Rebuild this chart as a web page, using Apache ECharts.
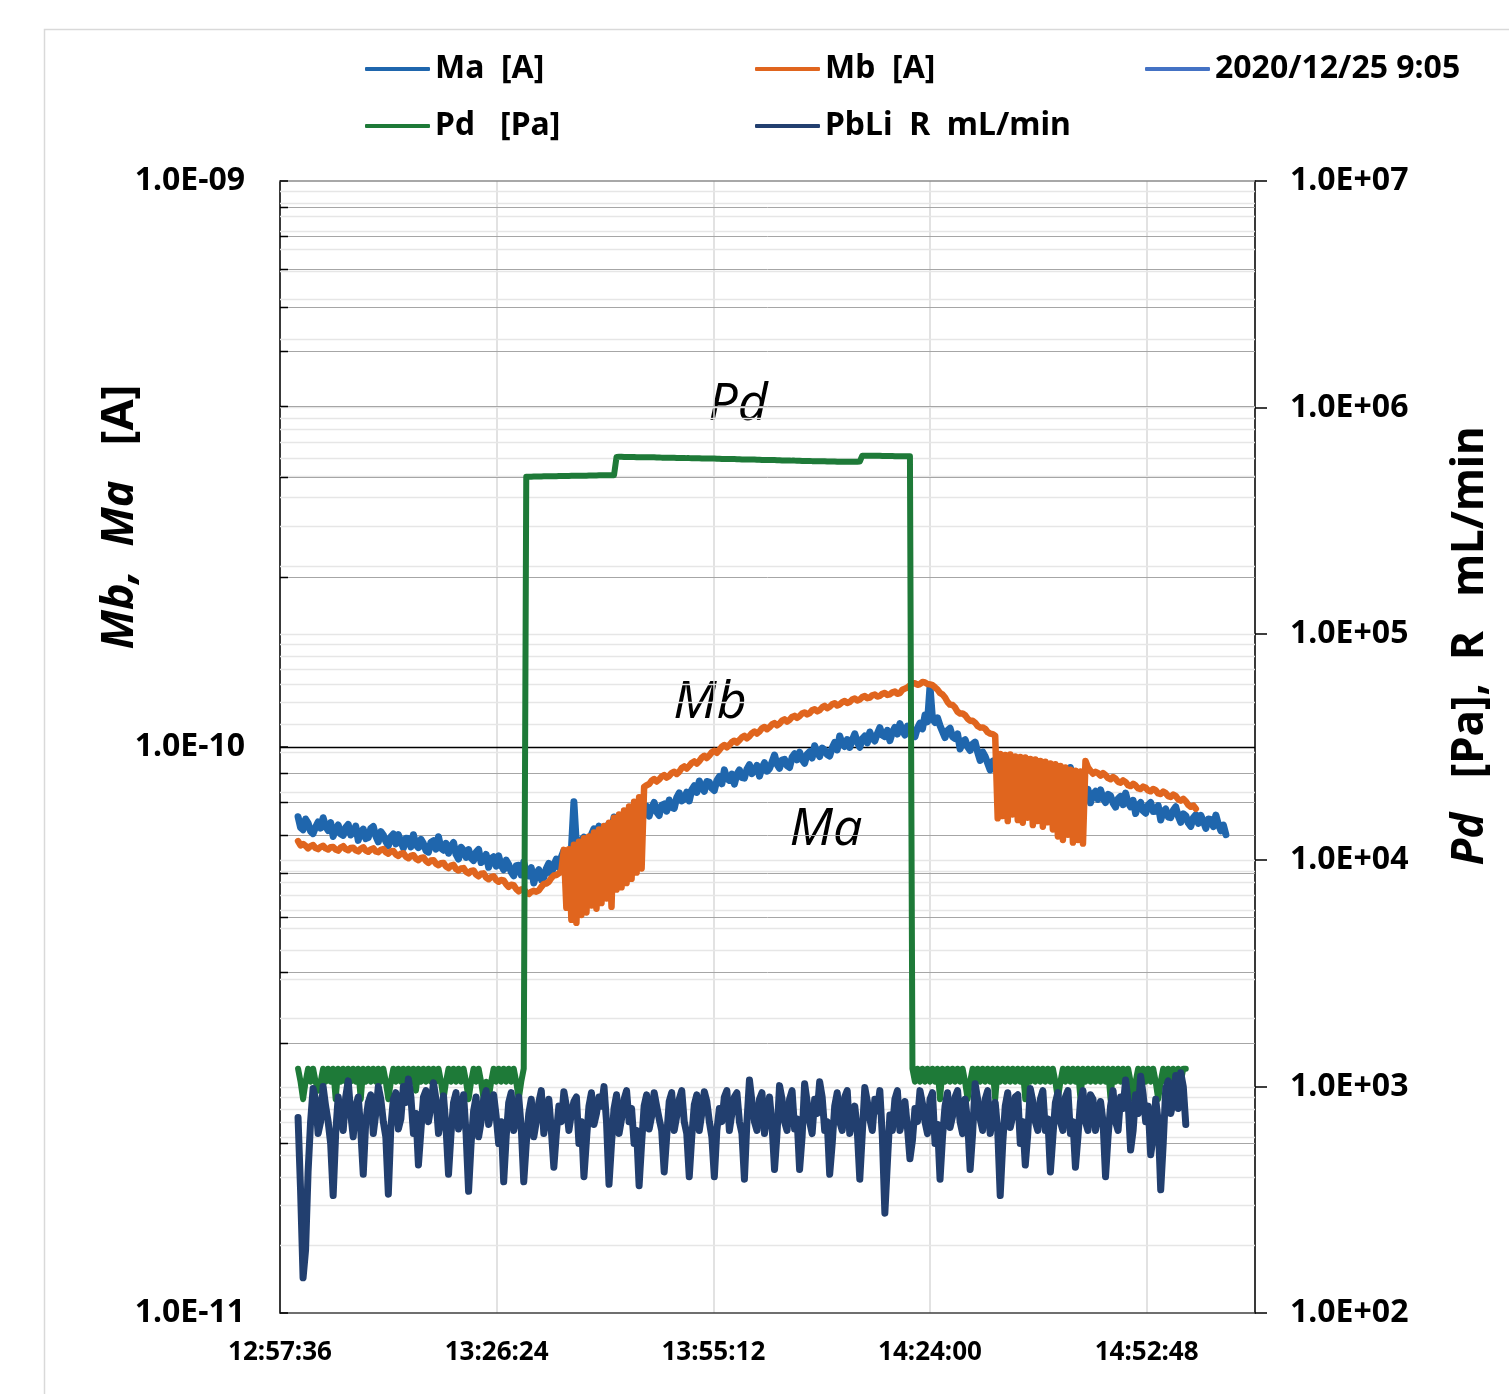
<!DOCTYPE html>
<html><head><meta charset="utf-8">
<script src="https://cdn.jsdelivr.net/npm/echarts@6/dist/echarts.min.js"></script>
<style>html,body{margin:0;padding:0;background:#fff}#c{width:1509px;height:1394px}</style>
</head><body><div id="c"></div><script>
// ---- axis / tick data ----
const xTickStart = '12:57:36';
const xTickStep = '0:28:48';
const xAxisEnd = '15:07:12';
const leftMinPA = 10, leftMaxPA = 1000;      // 1.0E-11 .. 1.0E-09 A (stored in pA)
const rightMin = 100, rightMax = 1e7;        // 1.0E+02 .. 1.0E+07

// ---- samples: logger start time and interval ----
const sampleStart = '13:00:00';
const sampleStepSec = 20;

// Ma [A] (values in pA)
const ma = [75.3,72.1,71.4,74.6,73.4,71.0,70.3,72.2,73.7,71.9,75.0,72.4,71.2,73.5,69.5,71.5,72.8,70.2,69.8,72.1,
 73.0,69.9,70.7,72.5,68.4,70.8,71.6,68.9,69.2,71.8,72.4,69.6,68.0,70.9,69.9,68.1,66.9,69.4,70.2,67.4,
 70.0,68.1,66.3,69.0,68.9,66.6,70.0,67.2,66.4,68.7,67.5,65.6,65.2,67.9,68.3,66.0,69.4,66.3,65.7,67.6,
 64.9,66.8,67.8,64.6,63.4,66.5,65.7,63.8,65.9,63.7,63.0,65.2,65.9,62.5,63.0,64.6,61.3,63.5,64.0,61.6,
 64.2,61.8,60.7,63.1,62.0,60.1,59.2,61.7,61.8,59.4,62.6,60.0,59.2,61.2,57.5,59.8,60.7,58.3,58.8,61.0,
 62.3,59.6,61.8,63.4,61.3,63.9,65.6,63.2,64.8,66.0,80.0,67.0,66.4,68.5,69.3,66.9,67.3,70.1,71.7,69.2,
 72.5,70.3,69.6,72.4,73.1,71.0,75.2,72.6,72.1,75.3,74.5,72.8,73.1,76.0,77.7,75.1,80.2,77.4,76.2,78.6,
 75.5,78.0,79.8,76.8,75.7,78.9,79.3,77.0,80.6,78.2,77.9,81.4,83.0,80.3,80.9,83.2,80.3,84.0,85.4,83.1,
 87.1,84.6,83.5,86.9,86.7,84.5,83.8,87.2,88.7,86.1,91.1,88.0,87.3,89.6,86.0,89.5,91.1,88.3,88.1,91.4,
 93.1,89.7,90.9,92.8,88.8,91.9,93.8,90.6,91.6,94.1,96.8,93.2,91.7,94.8,95.1,92.7,92.0,95.9,97.3,94.9,
 97.9,95.0,93.6,97.1,98.1,95.6,100.5,97.8,96.2,99.6,98.8,96.9,96.4,99.7,101.9,98.8,104.6,101.3,100.2,103.1,
 99.8,102.9,105.5,102.0,99.9,103.4,104.6,101.7,106.3,103.5,102.5,105.6,108.2,104.9,104.3,107.0,102.6,106.1,108.3,105.4,
 110.0,106.9,105.0,108.9,108.4,105.8,104.3,108.0,110.2,107.6,113.9,110.8,128.0,112.0,110.5,112.6,109.1,106.5,103.9,107.0,
 107.9,104.2,103.5,105.5,99.2,102.4,103.0,100.1,98.6,101.2,102.0,97.9,94.7,98.0,96.2,93.6,91.1,94.4,94.7,91.6,
 93.6,90.7,88.5,91.8,91.5,89.1,92.7,89.6,87.6,90.4,88.8,86.4,85.6,88.2,89.4,86.5,90.7,87.4,85.8,88.6,
 84.5,87.0,88.2,84.8,82.5,85.9,85.3,87.5,92.0,85.5,82.1,84.4,85.7,82.9,81.8,84.2,79.7,82.6,83.5,80.8,
 84.0,81.2,79.8,82.5,82.0,79.6,78.3,81.0,81.8,79.1,82.9,79.7,78.4,80.5,76.3,78.9,79.8,77.1,76.4,79.0,
 79.8,76.9,77.0,78.8,74.3,76.9,77.7,75.2,75.0,77.3,78.4,75.5,73.6,76.2,75.6,73.4,72.4,75.0,75.9,73.3,
 75.7,73.9,71.8,74.6,74.5,72.3,75.8,73.0,71.1,72.8,70.0];

// Mb [A] (values in pA)
const mb = [68.2,67.0,67.4,66.9,66.2,66.8,67.1,66.3,66.0,66.6,66.9,66.2,65.9,66.5,66.6,65.9,65.6,66.4,66.8,66.0,
 65.7,66.3,66.4,65.7,65.4,66.1,66.5,65.6,65.3,65.9,66.2,65.4,65.2,65.8,66.0,65.2,64.8,65.4,65.5,64.6,
 64.2,64.8,64.9,64.0,63.6,64.2,64.4,63.5,63.1,63.7,63.8,62.9,62.4,63.0,63.1,62.2,61.8,62.3,62.4,61.5,
 61.1,61.7,61.9,60.9,60.5,61.0,61.1,60.2,59.8,60.4,60.5,59.5,59.1,59.7,59.8,58.8,58.4,58.9,59.1,58.2,
 57.8,58.2,58.1,57.2,56.6,57.1,57.0,56.1,55.6,56.0,56.1,55.3,55.0,55.5,55.7,55.5,55.8,56.6,57.3,57.4,
 57.8,58.7,59.3,59.4,59.8,
 60.5,65.8,52.0,66.0,49.5,67.2,48.9,68.0,50.5,69.0,51.0,69.5,52.5,70.6,51.8,71.5,53.0,72.5,54.0,73.5,
 52.2,75.0,56.0,76.0,56.5,77.2,57.5,78.5,58.5,80.0,60.0,81.5,61.0,85.0,
 85.6,
 86.0,87.2,87.8,86.9,87.6,88.7,89.2,88.3,88.9,90.0,90.4,89.6,90.4,91.8,92.4,91.6,92.6,93.7,94.3,93.5,
 94.4,95.8,96.5,95.6,96.6,97.9,98.5,97.7,98.8,100.1,100.8,99.9,100.8,102.0,102.6,101.8,102.8,104.0,104.6,103.6,
 104.5,105.8,106.5,105.6,106.5,107.9,108.5,107.5,108.4,109.6,110.2,109.2,110.0,111.3,111.9,110.9,111.7,113.0,113.5,112.6,
 113.4,114.6,115.1,114.2,114.8,116.1,116.6,115.6,116.2,117.5,118.2,117.1,117.8,119.0,119.5,118.4,118.9,120.0,120.6,119.6,
 120.1,121.3,121.8,120.8,121.3,122.5,123.0,122.0,122.3,123.4,123.8,122.8,123.1,124.2,124.6,123.6,123.9,124.9,125.3,124.2,
 124.5,126.2,126.8,127.4,128.5,129.4,129.6,128.8,129.2,130.3,130.0,129.2,129.0,128.6,127.5,126.3,124.6,123.8,122.3,120.1,
 118.8,118.6,117.4,115.4,114.6,114.6,113.8,112.2,111.3,111.3,110.4,108.9,108.2,108.3,107.7,106.2,105.6,105.4,104.6,
 74.8,97.2,75.5,96.8,74.0,97.0,76.0,96.2,74.3,96.0,73.5,95.8,75.0,95.2,72.8,95.0,74.0,94.5,72.3,94.2,
 73.6,93.5,71.5,93.2,69.5,92.6,68.5,92.0,70.0,91.2,67.8,90.8,68.5,90.5,67.5,94.5,92.0,
 90.8,89.7,90.4,89.9,89.0,89.9,89.2,88.1,87.7,88.5,87.9,86.8,86.5,87.3,86.7,85.6,85.3,86.1,85.5,84.5,
 84.3,85.1,84.7,83.8,83.5,84.3,83.9,82.8,82.6,83.4,82.9,81.9,81.6,82.4,81.9,80.8,80.4,81.0,80.2,79.0,
 78.4,78.8,77.8];

// Pd [Pa]
const pd = [1200,1050,880,1050,1200,1050,1200,1050,960,1050, 1200,1050,1200,1050,1200,880,1200,1050,1200,1050,
 1200,1050,1200,1050,1200,880,1200,1050,1200,1050, 1200,1050,1200,1050,1200,1050,880,1050,1200,1050,
 1200,1050,1200,1050,1200,1050,1200,960,1200,1050, 1200,1050,1200,1050,1200,1050,1200,1050,880,1050,
 1200,1050,1200,1050,1200,1050,1200,1050,880,1050, 1200,1050,1200,1050,880,1050,880,1050,1200,1050,
 1200,1050,1200,1050,1200,1050,1200,1050,880,1050, 1200,
 494000,494000,494500,495000,495000,495500,495500,496000,496000,496500,496500,497000,497000,497500,497500,498000,498000,498000,
 498500,498500,499000,499000,499000,499500,499500,500000,500000,500500,500500,501000,501000,501000,501500,501500,502000,502000,
 604000,
 605000,605000,604000,604000,604000,604000,604000,603000,603000,603000, 603000,602000,602000,602000,602000,601000,601000,600000,600000,600000,
 600000,599000,599000,598000,598000,598000,598000,597000,597000,596000, 596000,596000,596000,595000,595000,594000,594000,594000,594000,593000,
 593000,592000,592000,591000,591000,591000,591000,590000,590000,589000, 589000,589000,589000,588000,588000,587000,587000,586000,586000,586000,
 586000,585000,585000,584000,584000,583000,583000,583000,583000,582000, 582000,581000,581000,580000,580000,580000,580000,579000,579000,578000,
 578000,578000,578000,577000,577000,577000,577000,576000,576000,576000, 576000,575000,575000,575000,575000,576000,577000,
 612000,612000,612000,612000,611000,611000,611000,611000,610000,610000,610000,610000,610000,609000,609000,609000,609000,608000,608000,608000,
 1200,1050,1200,1050,1200,1050,1200,1050,1200,1050, 1200,880,1200,1050,1200,1050,1200,1050,1200,1050,
 1200,1050,880,1050,1200,1050,1200,1050,1200,1050, 1200,1050,1200,880,1200,1050,1200,1050,1200,1050,
 1200,1050,1200,1050,1200,880,1200,1050,1200,1050, 1200,1050,1200,1050,1200,1050,1200,1050,880,1050,
 1200,1050,1200,1050,1200,1050,1200,880,1200,1050, 1200,1050,1200,1050,1200,1050,1200,1050,1200,880,
 1200,1050,1200,1050,1200,1050,1200,1050,880,1050, 1200,1050,1200,1050,1200,1050,1200,1050,880,1050,
 1200,1050,1200,1050,1200,1050,1200,1050,1200,1200];

// PbLi R mL/min
const pbli = [730,350,143,190,420,700,980,880,620,700,1000,820,700,560,330,620,900,760,640,900,
 1060,760,600,820,900,640,410,700,850,920,620,760,1000,880,700,600,335,660,880,940,
 650,720,1000,850,1080,900,620,760,450,640,900,960,700,820,1040,880,620,720,910,660,
 410,620,850,940,650,760,920,620,345,560,780,900,600,700,880,960,680,780,920,740,
 560,700,380,600,850,940,640,720,900,660,380,560,760,880,600,700,850,960,620,740,
 880,640,440,620,820,700,950,820,640,760,860,900,560,700,400,580,820,940,680,760,
 900,820,1000,700,370,560,800,920,620,720,880,960,700,800,560,640,365,560,820,920,
 650,740,940,820,720,640,420,600,860,940,640,740,880,960,700,620,400,600,830,920,
 640,760,950,860,700,600,400,640,800,700,900,960,640,760,900,940,700,620,390,700,
 1070,860,700,640,880,940,620,740,900,680,430,620,1010,880,700,640,880,960,650,720,
 430,600,1030,860,700,620,880,760,1050,900,640,700,410,560,820,940,700,640,900,960,
 620,700,820,640,390,620,990,860,720,640,880,780,960,600,276,460,750,640,880,960,
 640,720,860,660,480,580,800,700,960,840,700,620,880,940,560,680,390,600,820,940,
 660,740,900,960,700,620,880,700,430,620,1030,880,720,640,880,960,620,720,850,640,
 330,560,820,940,660,740,900,920,560,700,450,620,980,860,700,640,880,960,640,720,
 420,600,850,940,700,640,900,960,620,700,440,600,860,960,700,640,920,880,640,740,
 860,700,400,600,820,960,700,640,900,800,1070,860,525,640,920,760,1110,920,700,820,
 500,600,880,700,350,560,980,1060,760,860,1120,800,1150,1000,680];

const dateSeries = [];   // "2020/12/25 9:05" (legend entry only)

// gridline values
const leftMinorGrid = [20,30,40,50,60,70,80,90,200,300,400,500,600,700,800,900]; // pA
const leftMajorGrid = [100];                                                     // pA
const rightGrid = [200,300,400,500,600,700,800,900,1000,2000,3000,4000,5000,6000,7000,8000,9000,10000,
 20000,30000,40000,50000,60000,70000,80000,90000,100000,200000,300000,400000,500000,600000,700000,800000,900000,1000000,
 2000000,3000000,4000000,5000000,6000000,7000000,8000000,9000000];

// ---- helpers ----
const toSec = s => { const p = s.split(':').map(Number); return p[0]*3600 + p[1]*60 + (p[2]||0); };
const fmtTime = s => { s = Math.round(s); const h = Math.floor(s/3600), m = Math.floor(s%3600/60), c = s%60;
  return h + ':' + String(m).padStart(2,'0') + ':' + String(c).padStart(2,'0'); };
const expLabel = (v, shift) => { const e = Math.round(Math.log10(v)) + shift; const m = v*Math.pow(10, shift)/Math.pow(10, e);
  return m.toFixed(1) + 'E' + (e < 0 ? '-' : '+') + String(Math.abs(e)).padStart(2,'0'); };

const X_MIN = toSec(xTickStart), X_STEP = toSec(xTickStep), X_MAX = toSec(xAxisEnd);
const T0 = toSec(sampleStart);
const pairs = arr => arr.map((v, i) => [T0 + i*sampleStepSec, v]);

const FONT = 'Noto Sans';
function gridRenderer(color, width, tickColor, tickLen) {
  return function (params, api) {
    const cs = params.coordSys;
    const y = Math.round(api.coord([api.value(0), api.value(1)])[1]) + 0.5;
    const ch = [{type:'line', shape:{x1:cs.x, y1:y, x2:cs.x+cs.width, y2:y}, style:{stroke:color, lineWidth:width}}];
    if (tickLen) ch.push({type:'line', shape:{x1:cs.x, y1:y, x2:cs.x+tickLen, y2:y}, style:{stroke:tickColor, lineWidth:1.5}});
    return {type:'group', children: ch};
  };
}
const lineSeries = (name, data, color, yi, z, w) => ({
  name, type:'line', data, xAxisIndex:0, yAxisIndex:yi, symbol:'none', showSymbol:false, z,
  lineStyle:{color, width:w, join:'round', cap:'round'}, itemStyle:{color}, silent:true
});

const legendBase = {padding:0, itemWidth:65, itemHeight:4, icon:'roundRect', selectedMode:false,
  textStyle:{fontFamily:FONT, fontWeight:'bold', fontSize:32, color:'#000'}};

const chart = echarts.init(document.getElementById('c'), null, {renderer:'canvas'});
chart.setOption({
  animation:false,
  backgroundColor:'#fff',
  grid:{left:280, top:181, width:975, height:1132, containLabel:false},
  legend:[
    Object.assign({left:365, top:53, data:['Ma  [A]']}, legendBase),
    Object.assign({left:755, top:53, data:['Mb  [A]']}, legendBase),
    Object.assign({left:1145, top:53, data:['2020/12/25 9:05']}, legendBase),
    Object.assign({left:365, top:110, data:['Pd   [Pa]']}, legendBase),
    Object.assign({left:755, top:110, data:['PbLi  R  mL/min']}, legendBase)
  ],
  xAxis:[{
    type:'value', min:X_MIN, max:X_MAX, interval:X_STEP, position:'bottom',
    axisLine:{show:true, lineStyle:{color:'#404040', width:1.5}},
    axisTick:{show:false},
    axisLabel:{formatter:v => fmtTime(v), showMaxLabel:false, margin:27,
      fontFamily:FONT, fontWeight:'bold', fontSize:26, color:'#000'},
    splitLine:{show:true, lineStyle:{color:'#d9d9d9', width:1.5}}
  },{
    type:'value', min:X_MIN, max:X_MAX, position:'top',
    axisLine:{show:true, lineStyle:{color:'#8c8c8c', width:1.5}},
    axisTick:{show:false}, axisLabel:{show:false}, splitLine:{show:false}
  }],
  yAxis:[{
    type:'log', logBase:10, min:leftMinPA, max:leftMaxPA, position:'left',
    axisLine:{show:true, lineStyle:{color:'#000', width:1.5}},
    axisTick:{show:true, inside:true, length:8, lineStyle:{color:'#000', width:1.5}},
    axisLabel:{formatter:v => expLabel(v, -12), margin:35, fontFamily:FONT, fontWeight:'bold', fontSize:32, color:'#000'},
    splitLine:{show:false}
  },{
    type:'log', logBase:10, min:rightMin, max:rightMax, position:'right',
    axisLine:{show:true, lineStyle:{color:'#000', width:1.5}},
    axisTick:{show:true, inside:false, length:12, lineStyle:{color:'#000', width:1.5}},
    axisLabel:{formatter:v => expLabel(v, 0), margin:35, fontFamily:FONT, fontWeight:'bold', fontSize:32, color:'#000'},
    splitLine:{show:false}
  }],
  series:[
    {name:'gridR', type:'custom', xAxisIndex:0, yAxisIndex:1, z:1, silent:true,
      data:rightGrid.map(v => [X_MIN, v]), renderItem:gridRenderer('#e6e6e6', 1.5)},
    {name:'gridL', type:'custom', xAxisIndex:0, yAxisIndex:0, z:1, silent:true,
      data:leftMinorGrid.map(v => [X_MIN, v]), renderItem:gridRenderer('#a6a6a6', 1, '#000', 8)},
    {name:'gridLMajor', type:'custom', xAxisIndex:0, yAxisIndex:0, z:1, silent:true,
      data:leftMajorGrid.map(v => [X_MIN, v]), renderItem:gridRenderer('#000', 1.5)},
    lineSeries('Ma  [A]', pairs(ma), '#1f66ad', 0, 3, 7),
    lineSeries('Mb  [A]', pairs(mb), '#e0651e', 0, 4, 6.5),
    lineSeries('2020/12/25 9:05', pairs(dateSeries), '#4472c4', 0, 4, 5),
    lineSeries('Pd   [Pa]', pairs(pd), '#1e7a38', 1, 5, 6),
    lineSeries('PbLi  R  mL/min', pairs(pbli), '#223f6f', 1, 6, 7)
  ],
  graphic:[
    {type:'rect', left:42, top:27, shape:{width:1500, height:1400}, style:{fill:'none', stroke:'#d9d9d9', lineWidth:1.5}, silent:true, z:-1},
    {type:'text', x:120, y:517, rotation:Math.PI/2,
      style:{text:'{i|Mb,  Ma}{n|   [A]}', align:'center', verticalAlign:'middle', textAlign:'center', textVerticalAlign:'middle',
        rich:{i:{fontFamily:FONT, fontWeight:'bold', fontStyle:'italic', fontSize:45, fill:'#000'},
              n:{fontFamily:FONT, fontWeight:'bold', fontSize:45, fill:'#000'}}}},
    {type:'text', x:1470, y:646, rotation:Math.PI/2,
      style:{text:'{i|Pd}{n|   [Pa],  R   mL/min}', align:'center', verticalAlign:'middle', textAlign:'center', textVerticalAlign:'middle',
        rich:{i:{fontFamily:FONT, fontWeight:'bold', fontStyle:'italic', fontSize:44, fill:'#000'},
              n:{fontFamily:FONT, fontWeight:'bold', fontSize:44, fill:'#000'}}}},
    {type:'text', x:738, y:405, style:{text:'Pd', font:'italic 52px "Open Sans"', fill:'#000', align:'center', verticalAlign:'middle', textAlign:'center', textVerticalAlign:'middle'}},
    {type:'text', x:710, y:703, style:{text:'Mb', font:'italic 52px "Open Sans"', fill:'#000', align:'center', verticalAlign:'middle', textAlign:'center', textVerticalAlign:'middle'}},
    {type:'text', x:826, y:830, style:{text:'Ma', font:'italic 52px "Open Sans"', fill:'#000', align:'center', verticalAlign:'middle', textAlign:'center', textVerticalAlign:'middle'}}
  ]
});
</script></body></html>
